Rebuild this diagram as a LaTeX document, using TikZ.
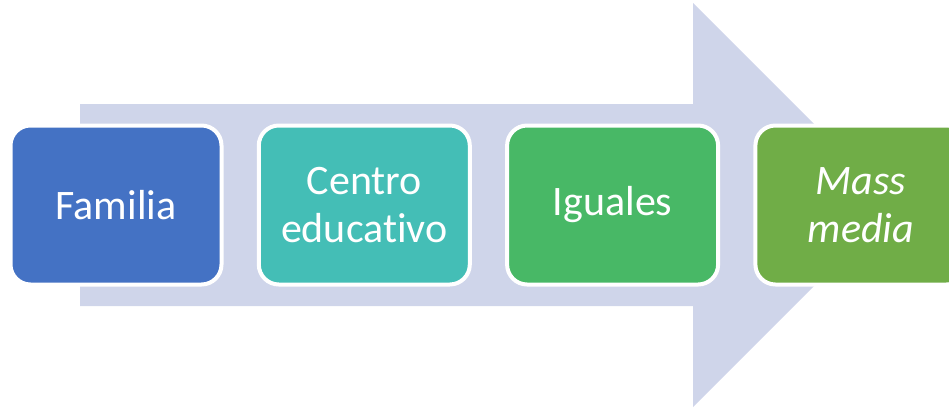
\documentclass[tikz,border=0pt]{standalone}
\usepackage{fontspec}
\setmainfont{Carlito}[Ligatures=NoCommon]
\usepackage{tikz}
\usetikzlibrary{positioning}

\definecolor{arrowbg}{HTML}{CFD5EA}
\definecolor{famblue}{HTML}{4472C4}
\definecolor{edteal}{HTML}{44BEB6}
\definecolor{iggreen}{HTML}{48B866}
\definecolor{mmolive}{HTML}{70AD47}

\tikzset{
  stage/.style={draw=white, line width=4pt, rounded corners=20pt, text=white,
                minimum width=211pt, minimum height=159pt, align=center, inner sep=0pt,
                font=\fontsize{42}{48}\selectfont}
}

\begin{document}
\begin{tikzpicture}[x=1pt, y=-1pt, node distance=248.3pt]

  \useasboundingbox (0,0) rectangle (949,407);

  % big arrow in the back
  \fill[arrowbg] (80,104) -- (693,104) -- (693,3) -- (895,205)
                 -- (693,407) -- (693,306) -- (80,306) -- cycle;

  \node[stage, fill=famblue]  (familia) at (116,205)      {Familia};
  \node[stage, fill=edteal]   (centro)  [right of=familia] {Centro\\educativo};
  \node[stage, fill=iggreen]  (iguales) [right of=centro]  {Iguales};
  \node[stage, fill=mmolive]  (mass)    [right of=iguales] {\itshape Mass\\\itshape media};

\end{tikzpicture}
\end{document}
